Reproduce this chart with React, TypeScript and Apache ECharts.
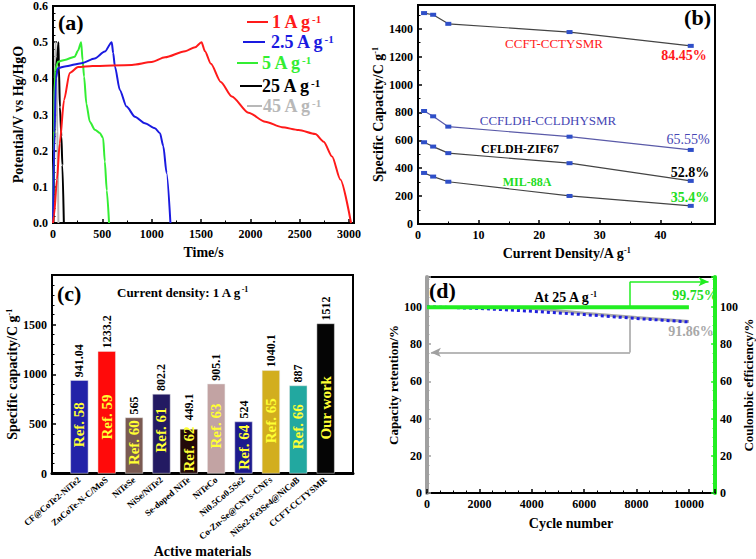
import React, { useEffect, useRef } from 'react';
import * as echarts from 'echarts';

const FONT = 'Liberation Serif, Times New Roman, Times, serif';

// ---------- (a) galvanostatic charge/discharge curves: [time (s), potential (V)] ----------
const gcdNames = ['1 A g', '2.5 A g', '5 A g', '25 A g', '45 A g'];
const gcdColors = ['#ff1a1a', '#1a1ae0', '#33ee33', '#000000', '#b8b8b8'];
const gcd1A = [[0, 0], [10, 0.02], [40, 0.12], [68, 0.22], [112, 0.34], [169, 0.415], [254, 0.431], [400, 0.434], [800, 0.437], [1000, 0.445], [1135, 0.458], [1340, 0.475], [1440, 0.486], [1505, 0.5], [1540, 0.475], [1600, 0.44], [1700, 0.39], [1812, 0.35], [1981, 0.305], [2151, 0.28], [2320, 0.265], [2489, 0.257], [2658, 0.246], [2743, 0.225], [2828, 0.184], [2912, 0.12], [3020, 0]];
const gcd25A = [[0, 0], [15, 0.25], [30, 0.4], [50, 0.428], [120, 0.433], [288, 0.442], [423, 0.455], [525, 0.474], [595, 0.5], [610, 0.47], [627, 0.433], [677, 0.368], [745, 0.322], [830, 0.294], [931, 0.276], [1033, 0.262], [1084, 0.248], [1118, 0.212], [1151, 0.138], [1190, 0]];
const gcd5A = [[0, 0], [10, 0.2], [20, 0.42], [51, 0.446], [119, 0.451], [220, 0.46], [254, 0.477], [285, 0.5], [300, 0.45], [315, 0.405], [338, 0.33], [373, 0.28], [424, 0.258], [474, 0.249], [508, 0.235], [525, 0.17], [545, 0.09], [568, 0]];
const gcd25Ab = [[5, 0], [12, 0.2], [20, 0.38], [30, 0.43], [45, 0.46], [55, 0.5], [60, 0.43], [70, 0.32], [85, 0.24], [95, 0.16], [110, 0]];
const gcd45A = [[0, 0], [8, 0.2], [18, 0.4], [26, 0.5], [34, 0.42], [44, 0.25], [55, 0]];
const gcdSeries = [gcd1A, gcd25A, gcd5A, gcd25Ab, gcd45A];

// ---------- (b) rate capability ----------
const currentDensity = [1, 2.5, 5, 25, 45];
const capCCFT = [1512, 1500, 1435, 1376, 1277];
const capCCFLDH = [810, 772, 698, 626, 531];
const capCFLDH = [586, 555, 508, 436, 309];
const capMIL = [366, 340, 303, 201, 130];

// ---------- (c) comparison ----------
const materials = ['CF@CoTe2-NiTe2', 'ZnCoTe-N-C/MoS', 'NiTeSe', 'NiSe/NiTe2', 'Se-doped NiTe', 'NiTeCo', 'Ni0.5Co0.5Se2', 'Co-Zn-Se@CNTs-CNFs', 'NiSe2-Fe3Se4@NiCoB', 'CCFT-CCTYSMR'];
const refLabels = ['Ref. 58', 'Ref. 59', 'Ref. 60', 'Ref. 61', 'Ref. 62', 'Ref. 63', 'Ref. 64', 'Ref. 65', 'Ref. 66', 'Our work'];
const capacities = [941.04, 1233.2, 565, 802.2, 449.1, 905.1, 524, 1040.1, 887, 1512];
const barColors = ['#2222a8', '#ff0a0a', '#7a5a52', '#231a62', '#230909', '#c2a3a3', '#1c1a8e', '#d2ae1e', '#22a8a0', '#050505'];

// ---------- (d) cycling ----------
const cycles = [0, 1000, 2000, 3000, 4000, 5000, 6000, 7000, 8000, 9000, 10000];
const retention = [100, 99.6, 99.1, 98.4, 97.6, 96.7, 95.8, 94.8, 93.7, 92.8, 91.86];
const efficiency = [99.8, 99.8, 99.8, 99.7, 99.8, 99.7, 99.8, 99.7, 99.8, 99.7, 99.75];
const grayCycles = [3500, 5000, 6000, 8000, 10000];
const grayRetention = [99.7, 97.9, 96.6, 94.2, 92.1];
const arrowCycle = 7750;

const supRich = (size: number, color: string, weight: string = 'bold') => ({
  b: { fontFamily: FONT, fontWeight: weight, fontSize: size, color, fill: color },
  s: { fontFamily: FONT, fontWeight: weight, fontSize: Math.round(size * 0.6), color, fill: color, verticalAlign: 'top' },
});

const tickLabel = { fontFamily: FONT, fontWeight: 'bold', fontSize: 12, color: '#000' };

function valueAxis(o: any) {
  const lc = o.lineColor || '#000';
  return {
    type: 'value',
    gridIndex: o.grid,
    min: o.min,
    max: o.max,
    interval: o.interval,
    position: o.position,
    name: o.name,
    nameLocation: 'middle',
    nameGap: o.nameGap,
    nameRotate: o.nameRotate,
    nameTextStyle: { fontFamily: FONT, fontWeight: 'bold', fontSize: o.nameSize || 14, color: '#000', rich: supRich(o.nameSize || 14, '#000') },
    axisLine: { show: true, onZero: false, lineStyle: { color: lc, width: o.lineWidth || 2 } },
    axisTick: { show: true, inside: true, length: 4, lineStyle: { color: lc, width: 1.5 } },
    minorTick: { show: true, splitNumber: o.minor || 2, length: 2.5, lineStyle: { color: lc, width: 1 } },
    splitLine: { show: false },
    axisLabel: {
      ...tickLabel,
      margin: o.margin || 5,
      formatter: o.formatter,
    },
  };
}

const C_MAX = 2000;
const C_PLOT_H = 221;
const REF_FONT = 15;
const REF_TEXT_LEN = 52;

export default function App() {
  const ref = useRef<HTMLDivElement>(null);
  useEffect(() => {
    if (!ref.current) return;
    const chart = echarts.init(ref.current, undefined, { renderer: 'svg' });

    const legendLayout = [
      { y: 22, x1: 247, x2: 268, tx: 272 },
      { y: 42, x1: 243, x2: 265, tx: 271 },
      { y: 63, x1: 237, x2: 258, tx: 262 },
      { y: 86, x1: 240, x2: 262, tx: 262 },
      { y: 106, x1: 247, x2: 262, tx: 263 },
    ];
    const graphics: any[] = [];
    gcdNames.forEach((n, i) => {
      const L = legendLayout[i];
      graphics.push({ type: 'line', shape: { x1: L.x1, y1: L.y, x2: L.x2, y2: L.y }, style: { stroke: gcdColors[i], lineWidth: 2 } });
      graphics.push({ type: 'text', x: L.tx, y: L.y, style: { text: `{b|${n}}{s|-1}`, rich: supRich(18, gcdColors[i]), verticalAlign: 'middle', fill: gcdColors[i] } });
    });
    const txt = (t: string, x: number, y: number, color: string, size: number, weight = 'bold', align = 'center') => ({
      type: 'text', x, y,
      style: { text: t, fill: color, fontFamily: FONT, fontSize: size, fontWeight: weight, align, verticalAlign: 'middle' },
    });
    const richTxt = (t: string, x: number, y: number, color: string, size: number, align = 'left') => ({
      type: 'text', x, y,
      style: { text: t, rich: supRich(size, color), fill: color, align, verticalAlign: 'middle' },
    });
    graphics.push(txt('(a)', 58, 22, '#000', 22, 'bold', 'left'));
    graphics.push(txt('(b)', 711, 17, '#000', 22, 'bold', 'right'));
    graphics.push(txt('CCFT-CCTYSMR', 554, 43, '#ff1a1a', 13, 'normal'));
    graphics.push(txt('84.45%', 684, 55, '#ff1a1a', 14, 'bold'));
    graphics.push(txt('CCFLDH-CCLDHYSMR', 548, 120, '#4646b4', 13, 'normal'));
    graphics.push(txt('65.55%', 688, 139, '#4646b4', 14, 'normal'));
    graphics.push(txt('CFLDH-ZIF67', 520, 149, '#000', 12, 'bold'));
    graphics.push(txt('52.8%', 690, 172, '#000', 14, 'bold'));
    graphics.push(txt('MIL-88A', 527, 182, '#22dd22', 12, 'bold'));
    graphics.push(txt('35.4%', 690, 197, '#22dd22', 14, 'bold'));
    graphics.push(txt('(c)', 57, 293, '#000', 22, 'bold', 'left'));
    graphics.push(richTxt('{b|Current density: 1 A g}{s|-1}', 117, 292, '#000', 13));
    graphics.push(txt('(d)', 429, 290, '#000', 22, 'bold', 'left'));
    graphics.push(richTxt('{b|At 25 A g}{s|-1}', 534, 297, '#000', 14));
    graphics.push(txt('99.75%', 695, 295, '#22dd22', 14, 'bold'));
    graphics.push(txt('91.86%', 691, 331, '#a8a8a8', 14, 'bold'));

    const hideNon = (step: number, fmt?: (v: number) => string) => (v: number) =>
      Math.abs(v / step - Math.round(v / step)) < 1e-6 ? (fmt ? fmt(v) : String(v)) : '';

    // label offset inside each bar, derived from bar pixel height
    const barPx = (v: number) => (v / C_MAX) * C_PLOT_H;
    const refDist = (v: number) => {
      const h = barPx(v);
      return Math.min(34, Math.max(2, Math.min(h * 0.35 - 10, h - REF_TEXT_LEN - 2)));
    };
    const refBarData = capacities.map((v, i) => ({ value: [i + 1, v], label: { distance: refDist(v) } }));
    const valBarData = capacities.map((v, i) => ({
      value: [i + 1, v],
      label: { distance: Math.max(3, refDist(v) + REF_TEXT_LEN - barPx(v) + 4) },
    }));

    const option: any = {
      animation: false,
      textStyle: { fontFamily: FONT },
      grid: [
        { left: 53, top: 5, width: 301, height: 218, show: true, borderColor: '#000', borderWidth: 2 },
        { left: 418, top: 5, width: 297, height: 219, show: true, borderColor: '#000', borderWidth: 2 },
        { left: 52, top: 275, width: 301, height: C_PLOT_H, show: true, borderColor: '#000', borderWidth: 2 },
        { left: 427, top: 277, width: 293, height: 216, show: true, borderColor: '#000', borderWidth: 2 },
      ],
      xAxis: [
        valueAxis({ grid: 0, min: 0, max: 3050, interval: 500, name: 'Time/s', nameGap: 22, formatter: hideNon(500) }),
        valueAxis({ grid: 1, min: 0, max: 49, interval: 10, name: '{b|Current Density/A g}{s|-1}', nameGap: 22, formatter: hideNon(10) }),
        {
          type: 'value', gridIndex: 2, min: 0, max: 11, interval: 1,
          name: 'Active materials', nameLocation: 'middle', nameGap: 47,
          nameTextStyle: { fontFamily: FONT, fontWeight: 'bold', fontSize: 14, color: '#000' },
          axisLine: { show: true, onZero: false, lineStyle: { color: '#000', width: 3 } },
          axisTick: { show: false },
          splitLine: { show: false },
          axisLabel: {
            fontFamily: FONT, fontWeight: 'bold', fontSize: 9, color: '#000', rotate: 40, margin: 5,
            formatter: (v: number) => (v >= 1 && v <= materials.length ? materials[v - 1] : ''),
          },
        },
        valueAxis({ grid: 3, min: 0, max: 11000, interval: 2000, name: 'Cycle number', nameGap: 23, formatter: hideNon(2000), minor: 4 }),
      ],
      yAxis: [
        valueAxis({ grid: 0, min: 0, max: 0.6, interval: 0.1, name: 'Potential/V vs Hg/HgO', nameGap: 28, formatter: (v: number) => v.toFixed(1), minor: 5 }),
        valueAxis({ grid: 1, min: 0, max: 1570, interval: 200, name: '{b|Specific Capacity/C g}{s|-1}', nameGap: 31, formatter: hideNon(200) }),
        valueAxis({ grid: 2, min: 0, max: C_MAX, interval: 500, name: '{b|Specific capacity/C g}{s|-1}', nameGap: 31, formatter: (v: number) => (v < C_MAX ? String(v) : ''), minor: 5 }),
        valueAxis({ grid: 3, min: 0, max: 116, interval: 20, name: 'Capacity retention/%', nameGap: 24, formatter: hideNon(20), lineColor: '#a0a0a0', lineWidth: 4, minor: 4, nameSize: 13 }),
        valueAxis({ grid: 3, min: 0, max: 116, interval: 20, position: 'right', name: 'Coulombic efficiency/%', nameGap: 26, nameRotate: 90, formatter: hideNon(20), lineColor: '#22ee22', lineWidth: 4, minor: 4, nameSize: 13 }),
      ],
      series: [
        ...gcdSeries.map((d, i) => ({
          type: 'line', xAxisIndex: 0, yAxisIndex: 0, data: d, showSymbol: false, smooth: 0.25, smoothMonotone: 'x',
          lineStyle: { color: gcdColors[i], width: 2 }, itemStyle: { color: gcdColors[i] }, z: 10 - i,
        })),
        ...[capCCFT, capCCFLDH, capCFLDH, capMIL].map((caps, i) => ({
          type: 'line', xAxisIndex: 1, yAxisIndex: 1,
          data: currentDensity.map((x, j) => [x, caps[j]]),
          symbol: 'rect', symbolSize: [6, 4],
          lineStyle: { color: i === 1 ? '#5a5aa8' : '#444', width: 1.2 },
          itemStyle: { color: '#2f4fc8' },
        })),
        {
          type: 'bar', xAxisIndex: 2, yAxisIndex: 2, barWidth: 18,
          data: refBarData,
          itemStyle: { color: (p: any) => barColors[p.dataIndex], borderColor: '#e8e8e8', borderWidth: 0.5 },
          label: {
            show: true, position: 'insideBottom', rotate: 90, align: 'left', verticalAlign: 'middle', color: '#ffff33',
            fontFamily: FONT, fontWeight: 'bold', fontSize: REF_FONT,
            formatter: (p: any) => refLabels[p.dataIndex],
          },
        },
        {
          type: 'bar', xAxisIndex: 2, yAxisIndex: 2, barWidth: 18, barGap: '-100%',
          data: valBarData,
          itemStyle: { color: 'rgba(0,0,0,0)' },
          label: {
            show: true, position: 'top', rotate: 90, align: 'left', verticalAlign: 'middle',
            color: '#000', fontFamily: FONT, fontWeight: 'bold', fontSize: 12,
            formatter: (p: any) => String(capacities[p.dataIndex]),
          },
        },
        {
          type: 'line', xAxisIndex: 3, yAxisIndex: 4, data: cycles.map((c, i) => [c, efficiency[i]]),
          showSymbol: false, lineStyle: { color: '#22ee22', width: 4 }, itemStyle: { color: '#22ee22' }, z: 5,
          markLine: {
            silent: true, symbol: ['none', 'arrow'], symbolSize: [7, 10], label: { show: false },
            lineStyle: { color: '#22ee22', width: 1.5, type: 'solid' },
            data: [
              [{ coord: [arrowCycle, 100], symbol: 'none' }, { coord: [arrowCycle, 113.5], symbol: 'none' }],
              [{ coord: [arrowCycle, 113.5], symbol: 'none' }, { coord: [10750, 113.5], symbol: 'arrow' }],
            ],
          },
        },
        {
          type: 'line', xAxisIndex: 3, yAxisIndex: 3, data: grayCycles.map((c, i) => [c, grayRetention[i]]),
          showSymbol: false, lineStyle: { color: '#a8a8a8', width: 3 }, itemStyle: { color: '#a8a8a8' }, z: 3,
          markLine: {
            silent: true, symbol: ['none', 'arrow'], symbolSize: [7, 10], label: { show: false },
            lineStyle: { color: '#a0a0a0', width: 1.5, type: 'solid' },
            data: [
              [{ coord: [arrowCycle, 93.6], symbol: 'none' }, { coord: [arrowCycle, 75.5], symbol: 'none' }],
              [{ coord: [arrowCycle, 75.5], symbol: 'none' }, { coord: [150, 75.5], symbol: 'arrow' }],
            ],
          },
        },
        {
          type: 'line', xAxisIndex: 3, yAxisIndex: 3, data: cycles.map((c, i) => [c, retention[i]]),
          showSymbol: false, lineStyle: { color: '#2020dd', width: 3, type: 'dotted' }, itemStyle: { color: '#2020dd' }, z: 4,
        },
      ],
      graphic: graphics,
    };
    chart.setOption(option);
    return () => chart.dispose();
  }, []);
  return <div ref={ref} style={{ position: 'absolute', left: 0, top: 0, width: 756, height: 559, background: '#fff' }} />;
}
